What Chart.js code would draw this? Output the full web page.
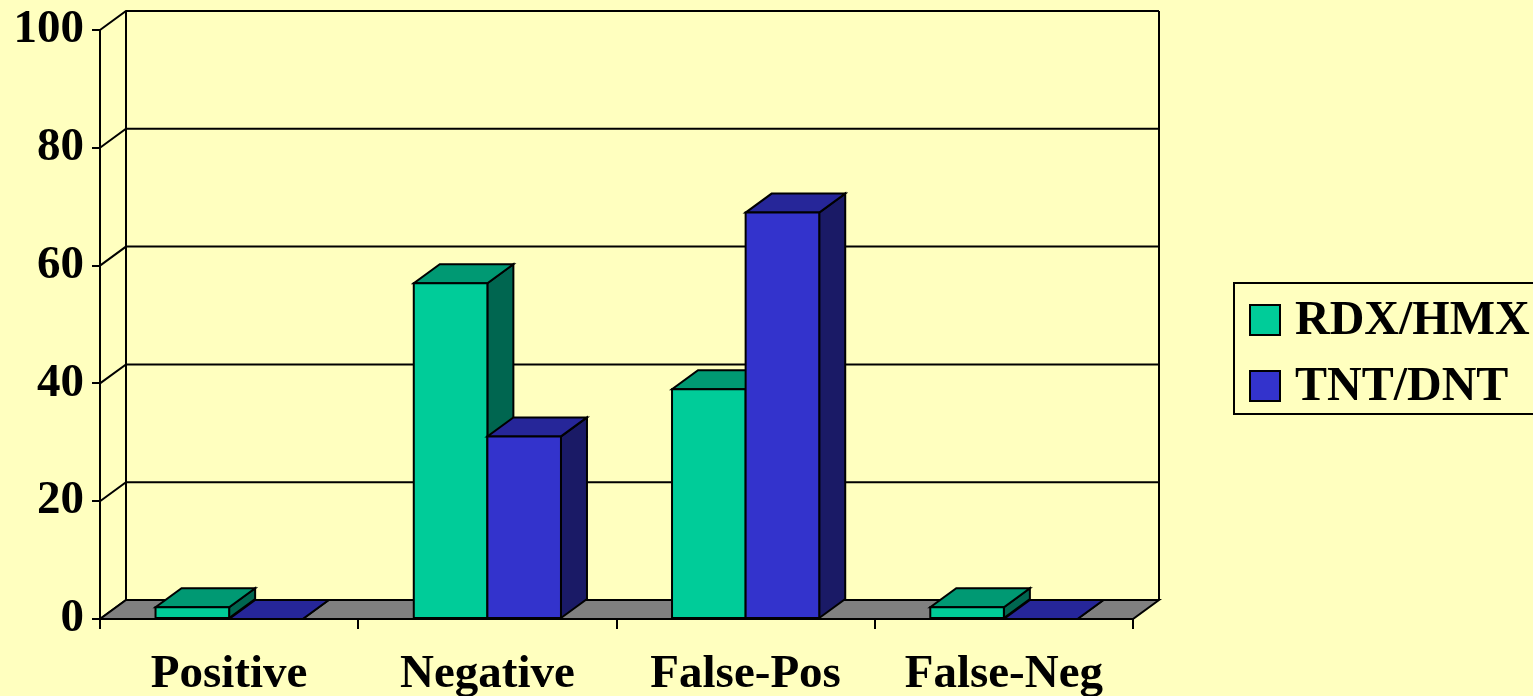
<!DOCTYPE html>
<html>
<head>
<meta charset="utf-8">
<script src="https://cdn.jsdelivr.net/npm/chart.js@4/dist/chart.umd.min.js"></script>
<style>
  html, body { margin: 0; padding: 0; background: #FFFFBF; }
  #wrap { width: 1533px; height: 696px; }
</style>
</head>
<body>
<div id="wrap"><canvas id="chart" width="1533" height="696"></canvas></div>
<script>
// Detection results per category, in percent.
const categories = ['Positive', 'Negative', 'False-Pos', 'False-Neg'];
const rdxHmx = [2, 57, 39, 2];
const tntDnt = [0, 31, 69, 0];
const yMin = 0, yMax = 100, yStep = 20;

// Face colours for the fake 3D bars: front, top, side.
const FACES = {
  'RDX/HMX': { front: '#00CC99', top: '#009973', side: '#006650' },
  'TNT/DNT': { front: '#3333CC', top: '#262699', side: '#1A1A66' }
};
const DEPTH_X = 26, DEPTH_Y = 19;  // wall / bar depth offset
const FLOOR = '#808080';
const SERIF = '"Liberation Serif", "Times New Roman", serif';
// lineHeight kept small so the top label doesn't push the plot area down
const FONT = { family: SERIF, size: 47, weight: 'bold', lineHeight: 0.9 };

function poly(ctx, pts, fill) {
  ctx.beginPath();
  ctx.moveTo(pts[0][0], pts[0][1]);
  for (let i = 1; i < pts.length; i++) ctx.lineTo(pts[i][0], pts[i][1]);
  ctx.closePath();
  if (fill) { ctx.fillStyle = fill; ctx.fill(); }
  ctx.stroke();
}

// Walls, floor and the extruded bars. Bar geometry comes from Chart.js's
// own bar elements; this just adds the depth faces and paints back-to-front.
const box3d = {
  id: 'box3d',
  beforeDatasetsDraw(chart) {
    const { ctx, chartArea: a, scales: { y } } = chart;
    ctx.save();
    ctx.lineWidth = 2;
    ctx.strokeStyle = '#000';
    ctx.lineJoin = 'miter';

    // left wall diagonals + back wall gridlines
    for (let v = yMin; v <= yMax; v += yStep) {
      const py = y.getPixelForValue(v);
      ctx.beginPath();
      ctx.moveTo(a.left, py);
      ctx.lineTo(a.left + DEPTH_X, py - DEPTH_Y);
      if (v > yMin) ctx.lineTo(a.right + DEPTH_X, py - DEPTH_Y);
      ctx.stroke();
    }
    ctx.beginPath();
    ctx.moveTo(a.left + DEPTH_X, a.top - DEPTH_Y);
    ctx.lineTo(a.left + DEPTH_X, a.bottom - DEPTH_Y);
    ctx.moveTo(a.right + DEPTH_X, a.top - DEPTH_Y);
    ctx.lineTo(a.right + DEPTH_X, a.bottom - DEPTH_Y);
    ctx.stroke();

    // floor
    poly(ctx, [
      [a.left, a.bottom], [a.right, a.bottom],
      [a.right + DEPTH_X, a.bottom - DEPTH_Y], [a.left + DEPTH_X, a.bottom - DEPTH_Y]
    ], FLOOR);

    // bars, left to right, first series before second in each group
    const metas = chart.data.datasets.map((d, i) => chart.getDatasetMeta(i));
    for (let i = 0; i < categories.length; i++) {
      metas.forEach((meta, di) => {
        const bar = meta.data[i];
        const c = FACES[chart.data.datasets[di].label];
        const x1 = bar.x - bar.width / 2, x2 = bar.x + bar.width / 2;
        const top = bar.y, bot = bar.base;
        poly(ctx, [[x2, bot], [x2 + DEPTH_X, bot - DEPTH_Y], [x2 + DEPTH_X, top - DEPTH_Y], [x2, top]], c.side);
        poly(ctx, [[x1, top], [x2, top], [x2 + DEPTH_X, top - DEPTH_Y], [x1 + DEPTH_X, top - DEPTH_Y]], c.top);
        poly(ctx, [[x1, top], [x2, top], [x2, bot], [x1, bot]], c.front);
      });
    }
    ctx.restore();
    return false;
  },
  afterDraw(chart) {
    // boxed legend on the right
    const ctx = chart.ctx;
    ctx.save();
    ctx.lineWidth = 2;
    ctx.strokeStyle = '#000';
    ctx.strokeRect(1234, 283, 320, 131);
    ctx.font = 'bold 48px ' + SERIF;
    ctx.textBaseline = 'middle';
    ctx.textAlign = 'left';
    chart.data.datasets.forEach((d, i) => {
      const cy = 320 + i * 66;
      ctx.fillStyle = d.backgroundColor;
      ctx.fillRect(1250, cy - 15, 30, 30);
      ctx.strokeRect(1250, cy - 15, 30, 30);
      ctx.fillStyle = '#000';
      ctx.fillText(d.label, 1295, cy + 2);
    });
    ctx.restore();
  }
};

new Chart(document.getElementById('chart'), {
  type: 'bar',
  data: {
    labels: categories,
    datasets: [
      { label: 'RDX/HMX', data: rdxHmx, backgroundColor: FACES['RDX/HMX'].front },
      { label: 'TNT/DNT', data: tntDnt, backgroundColor: FACES['TNT/DNT'].front }
    ]
  },
  options: {
    responsive: false,
    animation: false,
    events: [],
    layout: { padding: { top: 30, right: 400, left: 0, bottom: 0 } },
    datasets: { bar: { categoryPercentage: 0.57, barPercentage: 1 } },
    plugins: { legend: { display: false }, tooltip: { enabled: false } },
    scales: {
      x: {
        afterFit: s => { s.height = 77; },
        border: { display: true, color: '#000', width: 2 },
        grid: { display: true, drawOnChartArea: false, offset: true, color: '#000', lineWidth: 2, tickLength: 10 },
        ticks: { color: '#000', font: FONT, padding: 25, maxRotation: 0 }
      },
      y: {
        min: yMin, max: yMax,
        afterFit: s => { s.width = 100; },
        border: { display: true, color: '#000', width: 2 },
        grid: { display: true, drawOnChartArea: false, color: '#000', lineWidth: 2, tickLength: 8 },
        ticks: { stepSize: yStep, color: '#000', font: FONT, padding: 8 }
      }
    }
  },
  plugins: [box3d]
});
</script>
</body>
</html>
